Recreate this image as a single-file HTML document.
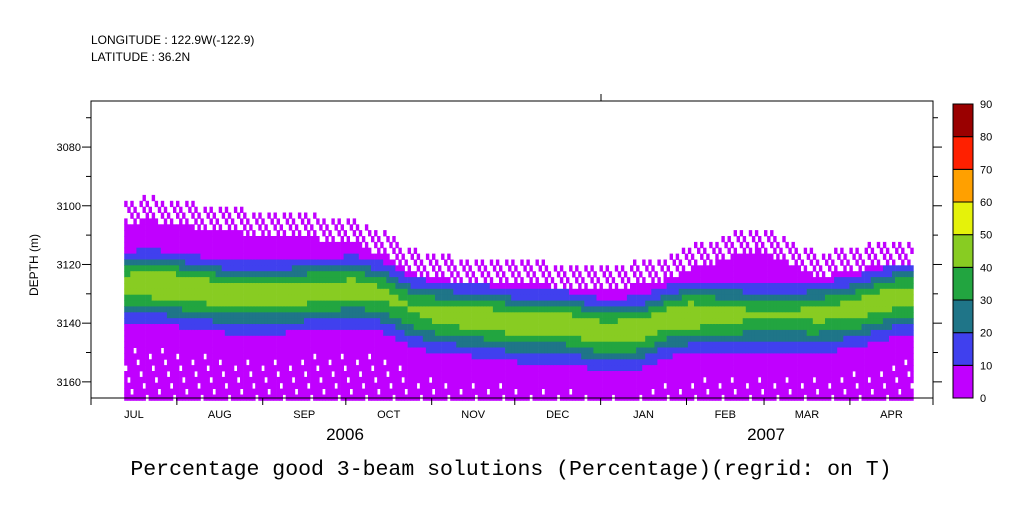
<!DOCTYPE html>
<html><head><meta charset="utf-8"><style>
body{margin:0;background:#fff;width:1009px;height:504px;overflow:hidden;font-family:"Liberation Sans",sans-serif}
</style></head><body>
<svg id="chart" width="1009" height="504" xmlns="http://www.w3.org/2000/svg">
<g id="cells"></g>
<g id="axes"></g>
<text x="91" y="44" font-size="12" font-family="Liberation Sans">LONGITUDE : 122.9W(-122.9)</text>
<text x="91" y="61" font-size="12" font-family="Liberation Sans">LATITUDE : 36.2N</text>
<text transform="translate(38,265) rotate(-90)" text-anchor="middle" font-size="12">DEPTH (m)</text>
<text x="345" y="440" text-anchor="middle" font-size="17">2006</text>
<text x="766" y="440" text-anchor="middle" font-size="17">2007</text>
<text x="511" y="475" text-anchor="middle" font-size="21.5" font-family="Liberation Mono">Percentage good 3-beam solutions (Percentage)(regrid: on T)</text>
<g id="cbar"></g>
</svg>
<script>
const days=[12,20,35,50,65,80,95,105,115,125,140,155,170,185,198,208,215,240,262,275,290,296];
const coreDepth=[3127,3126,3128,3130,3130,3129,3128,3130,3135,3137,3138,3140,3140,3143,3142,3138,3137,3137,3137,3135,3131,3131];
const topDepth=[3106,3105,3107,3109,3110,3111,3113,3117,3123,3125,3126,3126,3128,3128,3127,3125,3122,3115,3124,3122,3120,3120];
const peakValue=[46,50,48,46,46,46,44,42,40,44,46,46,46,46,46,44,48,40,42,44,46,46];
const depthTicks=[3080,3100,3120,3140,3160];
const months=["JUL","AUG","SEP","OCT","NOV","DEC","JAN","FEB","MAR","APR"];
const monthStarts=[0,31,62,92,123,153,184,215,243,274,304];
const levels=[0,10,20,30,40,50,60,70,80,90];
const colors=["#c000ff","#4040ee","#1f7588","#22a540","#88cc22","#e5f20a","#ffa000","#ff2000","#9a0000"];
const NS="http://www.w3.org/2000/svg";
const X0=91,X1=933,Y0=101,Y1=398,D0=3064.3,D1=3165.5,T1=304;
const xs=d=>X0+(d/T1)*(X1-X0);
const ys=z=>Y0+(z-D0)/(D1-D0)*(Y1-Y0);
function mk(tag,attrs,parent){const e=document.createElementNS(NS,tag);for(const k in attrs)e.setAttribute(k,attrs[k]);parent.appendChild(e);return e;}
function interp(arr,d){if(d<=days[0])return arr[0];for(let i=1;i<days.length;i++){if(d<=days[i]){const t=(d-days[i-1])/(days[i]-days[i-1]);return arr[i-1]+t*(arr[i]-arr[i-1]);}}return arr[arr.length-1];}
function col(v){let i=Math.floor(v/10);if(i<0)i=0;if(i>8)i=8;return colors[i];}
const cells=document.getElementById('cells');
const dStep=1.1,zStep=2;
let ci=0;
for(let d=days[0];d<days[days.length-1];d+=dStep,ci++){
  const c=interp(coreDepth,d),t=interp(topDepth,d),p=interp(peakValue,d);
  let zi=0;
  for(let z=D0;z<D1;z+=zStep,zi++){
    const zc=z+zStep/2;
    if(zc<t-8)continue;
    if(zc<t && ((ci*7+zi*3)%5)>1)continue;
    const dz=zc-c;
    const w=dz<0?9:11;
    let v=p*Math.exp(-(dz*dz)/(w*w));
    if(v<5)v=5;
    if(zc>c+22 && ((ci*5+zi*11)%9)===0)continue;
    const r=mk('rect',{x:xs(d).toFixed(1),y:ys(z).toFixed(1),width:(xs(d+dStep)-xs(d)+0.4).toFixed(1),height:(ys(z+zStep)-ys(z)+0.4).toFixed(1),fill:col(v)},cells);
    
    
  }
}
const ax=document.getElementById('axes');
mk('rect',{x:X0,y:Y0,width:X1-X0,height:Y1-Y0,fill:'none',stroke:'#000','stroke-width':1},ax);
mk('line',{x1:601,y1:Y0,x2:601,y2:94,stroke:'#000'},ax);
for(let z=3070;z<=3160;z+=10){
  const y=ys(z),L=(z%20===0)?9:5;
  mk('line',{x1:X0-L,y1:y,x2:X0,y2:y,stroke:'#000'},ax);
  mk('line',{x1:X1,y1:y,x2:X1+L,y2:y,stroke:'#000'},ax);
}
depthTicks.forEach(z=>{
  const t=mk('text',{x:X0-10,y:ys(z)+4,'text-anchor':'end','font-size':11},ax);
  t.textContent=z;
  
  
});
monthStarts.forEach(m=>{mk('line',{x1:xs(m),y1:Y1,x2:xs(m),y2:Y1+7,stroke:'#000'},ax);});
months.forEach((m,i)=>{
  const t=mk('text',{x:xs((monthStarts[i]+monthStarts[i+1])/2),y:418,'text-anchor':'middle','font-size':11},ax);
  t.textContent=m;
  
  
});
const cb=document.getElementById('cbar');
const CY0=104,CY1=398,CX=953,CW=20,seg=(CY1-CY0)/9;
colors.forEach((c,i)=>{
  const r=mk('rect',{x:CX,y:CY1-(i+1)*seg,width:CW,height:seg,fill:c,stroke:'#000','stroke-width':1},cb);
  
  
});
levels.forEach((l,i)=>{
  const t=mk('text',{x:980,y:CY1-i*seg+4,'font-size':11},cb);
  t.textContent=l;
  
  
});
</script>
</body></html>
